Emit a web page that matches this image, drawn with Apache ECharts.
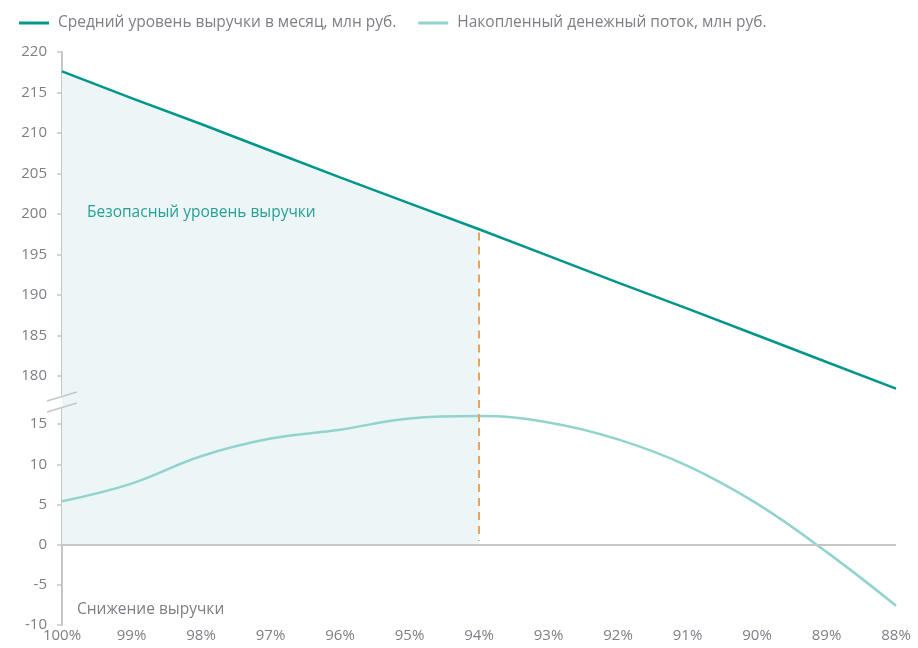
<!DOCTYPE html>
<html>
<head>
<meta charset="utf-8">
<script src="https://cdn.jsdelivr.net/npm/echarts@6/dist/echarts.min.js"></script>
<style>html,body{margin:0;padding:0;background:#fff}#c{width:918px;height:648px}</style>
</head>
<body>
<div id="c"></div>
<script>
const categories = ['100%','99%','98%','97%','96%','95%','94%','93%','92%','91%','90%','89%','88%'];
const revenue = [217.6, 214.3, 211.1, 207.8, 204.5, 201.3, 198.1, 194.8, 191.5, 188.3, 185.0, 181.7, 178.4];
const cashFlow = [5.4, 7.6, 11.0, 13.2, 14.3, 15.7, 16.0, 15.2, 13.1, 9.8, 5.1, -0.9, -7.6];
const upperTicks = [180, 185, 190, 195, 200, 205, 210, 215, 220];
const lowerTicks = [-10, -5, 0, 5, 10, 15];
const safeEnd = '94%';
const safeIdx = categories.indexOf(safeEnd);
const legendNames = ['Средний уровень выручки в месяц, млн руб.', 'Накопленный денежный поток, млн руб.'];

const FONT = 'Open Sans';
const GRAY = '#7d7e86';
const AXIS = '#c6c6c6';
const SHADE = '#edf6f7';
const DARK = '#00968a';
const LIGHT = '#93d3ce';
const ORANGE = '#e9a25f';

const chart = echarts.init(document.getElementById('c'));
const safeArea = revenue.map((v, i) => i <= safeIdx ? v : null);

function yAxisCfg(grid, min, max, ticks) {
  return {
    type: 'value', gridIndex: grid, min: min, max: max,
    axisLine: {show: true, lineStyle: {color: AXIS, width: 2}},
    axisTick: {show: true, length: 5, customValues: ticks, lineStyle: {color: AXIS, width: 1.5}},
    axisLabel: {customValues: ticks, color: GRAY, fontSize: 15, fontFamily: FONT, margin: 15},
    splitLine: {show: false}
  };
}

chart.setOption({
  animation: false,
  textStyle: {fontFamily: FONT},
  legend: {
    data: legendNames, left: 14, top: 10, icon: 'rect', itemWidth: 30, itemHeight: 3, itemGap: 22,
    textStyle: {color: GRAY, fontSize: 15.5, fontFamily: FONT, padding: [0, 0, 0, 4]}
  },
  grid: [
    {left: 62, right: 22, top: 52, height: 348},
    {left: 62, right: 22, top: 400, height: 225}
  ],
  xAxis: [
    {type: 'category', gridIndex: 0, data: categories, boundaryGap: false, show: false},
    {type: 'category', gridIndex: 1, data: categories, boundaryGap: false,
     axisLine: {show: false}, axisTick: {show: false},
     axisLabel: {color: GRAY, fontSize: 15, fontFamily: FONT, margin: 3}}
  ],
  yAxis: [
    yAxisCfg(0, 177, 220, upperTicks),
    yAxisCfg(1, -10, 18, lowerTicks)
  ],
  series: [
    {
      name: 'safeUpper', type: 'line', xAxisIndex: 0, yAxisIndex: 0, data: safeArea,
      symbol: 'none', lineStyle: {width: 0}, areaStyle: {color: SHADE, opacity: 1, origin: 'start'},
      silent: true, z: 1
    },
    {
      name: legendNames[0], type: 'line', xAxisIndex: 0, yAxisIndex: 0, data: revenue,
      symbol: 'none', color: DARK, lineStyle: {color: DARK, width: 2.5}, z: 4,
      markLine: {
        silent: true, symbol: 'none', label: {show: false},
        lineStyle: {color: ORANGE, width: 2, type: [8, 6]},
        data: [[{coord: [safeEnd, revenue[safeIdx] - 0.4]}, {coord: [safeEnd, 177]}]]
      }
    },
    {
      name: legendNames[1], type: 'line', xAxisIndex: 1, yAxisIndex: 1, data: cashFlow,
      smooth: 0.4, symbol: 'none', color: LIGHT, lineStyle: {color: LIGHT, width: 2.5}, z: 4,
      markArea: {
        silent: true, itemStyle: {color: SHADE, opacity: 1},
        data: [[{coord: [categories[0], 0]}, {coord: [safeEnd, 18]}]]
      },
      markLine: {
        silent: true, symbol: 'none', label: {show: false},
        data: [
          {yAxis: 0, lineStyle: {color: AXIS, width: 2, type: 'solid'}},
          [{coord: [safeEnd, 18], lineStyle: {color: ORANGE, width: 2, type: [8, 6]}},
           {coord: [safeEnd, 0.5]}]
        ]
      }
    }
  ],
  graphic: [
    {type: 'rect', left: 59, top: 395, shape: {width: 3, height: 13}, style: {fill: '#ffffff'}, z: 100},
    {type: 'rect', left: 62, top: 395, shape: {width: 3, height: 13}, style: {fill: SHADE}, z: 100},
    {type: 'line', shape: {x1: 47, y1: 401, x2: 77, y2: 392}, style: {stroke: AXIS, lineWidth: 1.5}, z: 101},
    {type: 'line', shape: {x1: 47, y1: 412, x2: 77, y2: 403}, style: {stroke: AXIS, lineWidth: 1.5}, z: 101},
    {type: 'text', left: 87, top: 205, style: {text: 'Безопасный уровень выручки', fill: '#26a094', fontSize: 15.5, fontFamily: FONT}, z: 50},
    {type: 'text', left: 77, top: 602, style: {text: 'Снижение выручки', fill: GRAY, fontSize: 15.5, fontFamily: FONT}, z: 50}
  ]
});
</script>
</body>
</html>
